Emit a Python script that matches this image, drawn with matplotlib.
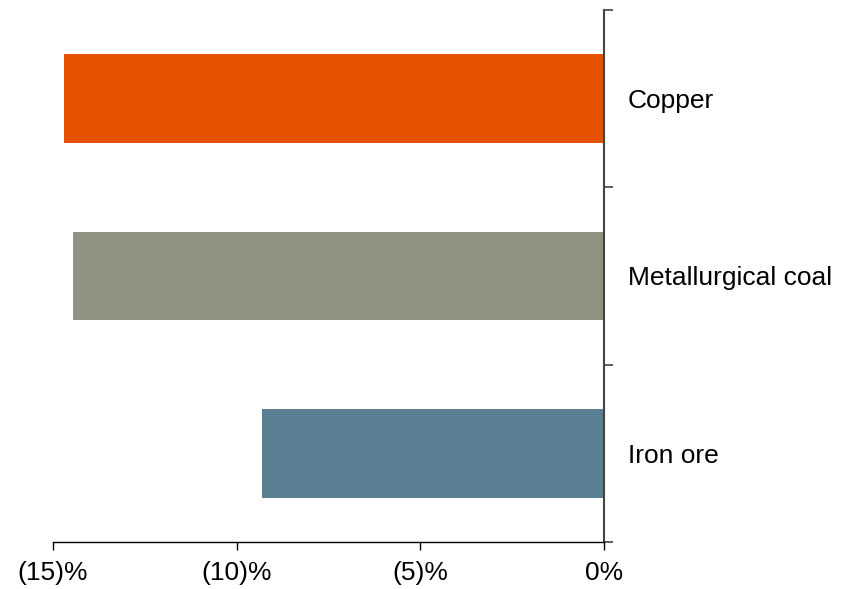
import matplotlib
matplotlib.use("Agg")
import matplotlib.pyplot as plt
from matplotlib.ticker import FixedLocator, FuncFormatter

categories = ["Copper", "Metallurgical coal", "Iron ore"]
values = [-14.7, -14.45, -9.3]
colors = ["#E65100", "#909180", "#5B7F92"]
xticks = [-15, -10, -5, 0]

plt.rcParams['font.family'] = ['Liberation Sans', 'DejaVu Sans']

fig = plt.figure(figsize=(8.44, 5.89), dpi=100)
ax = fig.add_axes([53/844, 1-542/589, (604-53)/844, (542-10)/589])

pos = list(range(len(categories)))
ax.barh(pos, values, height=0.5, color=colors)
ax.set_ylim(len(categories) - 0.5, -0.5)
ax.set_xlim(-15, 0)

ax.yaxis.tick_right()
ax.yaxis.set_major_locator(FixedLocator([p - 0.5 for p in pos] + [len(categories) - 0.5]))
ax.yaxis.set_major_formatter(FuncFormatter(lambda v, p: ""))
ax.yaxis.set_minor_locator(FixedLocator(pos))
ax.set_yticklabels(categories, minor=True)
ax.tick_params(axis='y', which='major', direction='out', length=6.5, width=1.2, color='#444444')
ax.tick_params(axis='y', which='minor', length=0, pad=17, labelsize=19)

ax.set_xticks(xticks)
ax.set_xticklabels([f"({-t})%" if t < 0 else f"{t}%" for t in xticks])
ax.tick_params(axis='x', direction='out', length=6, width=1, pad=8, labelsize=19)

for s in ['top', 'left']:
    ax.spines[s].set_visible(False)
ax.spines['right'].set_color('#444444')
ax.spines['right'].set_linewidth(1.5)
ax.spines['bottom'].set_color('black')
ax.spines['bottom'].set_linewidth(1)

fig.savefig("out.png", dpi=100)
